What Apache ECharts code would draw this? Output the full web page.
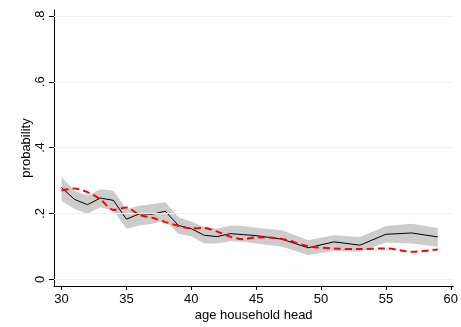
<!DOCTYPE html>
<html>
<head>
<meta charset="utf-8">
<style>
  html, body { margin: 0; padding: 0; background: #ffffff; overflow: hidden; }
  #chart { width: 461px; height: 327px; }
</style>
<script src="https://cdn.jsdelivr.net/npm/echarts@6/dist/echarts.min.js"></script>
</head>
<body>
<div id="chart"></div>
<script>
// Age of the household head (yearly to 45, then every second year)
const ages = [30, 31, 32, 33, 34, 35, 36, 37, 38, 39, 40, 41, 42, 43, 44, 45, 47, 49, 51, 53, 55, 57, 59];

// Estimated probability (solid line)
const probability = [0.279, 0.243, 0.227, 0.247, 0.240, 0.183, 0.199, 0.198, 0.207, 0.164, 0.154, 0.134,
  0.130, 0.139, 0.136, 0.133, 0.122, 0.096, 0.114, 0.104, 0.137, 0.141, 0.129];

// Confidence band around the estimate
const ciUpper = [0.311, 0.269, 0.254, 0.274, 0.269, 0.214, 0.224, 0.229, 0.234, 0.189, 0.176, 0.159,
  0.154, 0.164, 0.162, 0.157, 0.149, 0.119, 0.134, 0.129, 0.162, 0.169, 0.156];
const ciLower = [0.239, 0.214, 0.199, 0.219, 0.209, 0.154, 0.164, 0.169, 0.179, 0.139, 0.131, 0.109,
  0.109, 0.116, 0.114, 0.109, 0.099, 0.074, 0.086, 0.084, 0.112, 0.109, 0.099];

// Fitted probability (dashed line)
const fitted = [0.270, 0.276, 0.265, 0.243, 0.211, 0.218, 0.196, 0.187, 0.174, 0.163, 0.155, 0.156,
  0.145, 0.130, 0.122, 0.128, 0.123, 0.101, 0.094, 0.092, 0.094, 0.084, 0.091];

// Axis ticks
const xTicks = [30, 35, 40, 45, 50, 55, 60];
const yTicks = [0, 0.2, 0.4, 0.6, 0.8];

const pairs = (ys) => ages.map((a, i) => [a, ys[i]]);

const font = 'Liberation Sans, Arial, Helvetica, sans-serif';
const chart = echarts.init(document.getElementById('chart'), null, { renderer: 'canvas' });

// Confidence band drawn as one polygon: upper edge left to right, lower edge back
function renderBand(params, api) {
  const pts = [];
  for (let i = 0; i < ages.length; i++) pts.push(api.coord([ages[i], ciUpper[i]]));
  for (let i = ages.length - 1; i >= 0; i--) pts.push(api.coord([ages[i], ciLower[i]]));
  return {
    type: 'polygon',
    shape: { points: pts },
    style: { fill: '#cccccc', stroke: null }
  };
}

chart.setOption({
  animation: false,
  backgroundColor: '#ffffff',
  grid: { left: 54, right: 0, top: 10, bottom: 37, containLabel: false },
  xAxis: {
    type: 'value',
    min: 29.42,
    max: 60.2,
    name: 'age household head',
    nameLocation: 'middle',
    nameGap: 23,
    nameMoveOverlap: false,
    nameTextStyle: { fontFamily: font, fontSize: 13, color: '#000' },
    axisLine: { show: true, onZero: false, lineStyle: { color: '#000', width: 1 } },
    axisTick: { show: true, length: 4, customValues: xTicks, lineStyle: { color: '#000' } },
    axisLabel: {
      customValues: xTicks, margin: 7, fontFamily: font, fontSize: 13, color: '#000',
      formatter: (v) => String(v)
    },
    splitLine: { show: false }
  },
  yAxis: {
    type: 'value',
    min: -0.02,
    max: 0.818,
    name: 'probability',
    nameLocation: 'middle',
    nameRotate: 90,
    nameGap: 21,
    nameMoveOverlap: false,
    nameTextStyle: { fontFamily: font, fontSize: 13, color: '#000' },
    axisLine: { show: true, onZero: false, lineStyle: { color: '#000', width: 1 } },
    axisTick: { show: true, length: 5, customValues: yTicks, lineStyle: { color: '#000' } },
    axisLabel: {
      customValues: yTicks, rotate: 90, margin: 7, fontFamily: font, fontSize: 13, color: '#000',
      formatter: (v) => (v === 0 ? '0' : String(+v.toFixed(1)).replace(/^0/, ''))
    },
    splitLine: { show: false }
  },
  series: [
    {
      // horizontal grid lines at the major y ticks
      type: 'line',
      data: [],
      silent: true,
      markLine: {
        symbol: 'none',
        silent: true,
        label: { show: false },
        lineStyle: { color: '#eaf2f3', width: 1, type: 'solid' },
        data: yTicks.map((v) => ({ yAxis: v }))
      },
      z: 0
    },
    {
      name: 'band',
      type: 'custom',
      renderItem: renderBand,
      data: [[ages[0], ciUpper[0]]],
      clip: true,
      silent: true,
      z: 1
    },
    {
      name: 'probability',
      type: 'line',
      data: pairs(probability),
      symbol: 'none',
      lineStyle: { color: '#000000', width: 1 },
      z: 3
    },
    {
      name: 'fitted',
      type: 'line',
      data: pairs(fitted),
      symbol: 'none',
      smooth: 0.3,
      lineStyle: { color: '#ff0000', width: 2, type: [7, 4] },
      z: 4
    }
  ]
});
</script>
</body>
</html>
